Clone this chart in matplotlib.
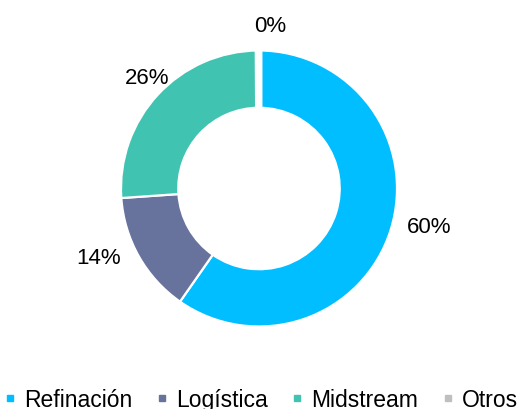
import matplotlib
matplotlib.use("Agg")
import matplotlib.pyplot as plt
from matplotlib.lines import Line2D

categories = ["Refinación", "Logística", "Midstream", "Otros"]
values = [59.7, 14.2, 26.0, 0.1]
colors = ["#00BEFF", "#67739D", "#40C4B1", "#BFBFBF"]

plt.rcParams["font.family"] = ["Liberation Sans", "DejaVu Sans"]

W, H = 521, 409
fig = plt.figure(figsize=(W / 100, H / 100), dpi=100)
ax = fig.add_axes([0, 0, 1, 1])

cx, cy = 259, H - 188.5
R = 138
wedges, _ = ax.pie(values, colors=colors, startangle=90, counterclock=False,
                   center=(cx, cy), radius=R, frame=True,
                   wedgeprops=dict(width=R * 0.415, edgecolor="white", linewidth=1.6))
wedges[-1].set_linewidth(5)
ax.set_xlim(0, W)
ax.set_ylim(0, H)
ax.axis("off")

# label positions (offset from centre, pixels)
label_off = [(170, -39), (-160, -69.5), (-111.5, 110.5), (11, 162.5)]
for v, (dx, dy) in zip(values, label_off):
    ax.text(cx + dx, cy + dy, f"{v:.0f}%", ha="center", va="center",
            fontsize=16, color="black")

handles = [Line2D([], [], linestyle="none", marker="s", markersize=5,
                  markerfacecolor=c, markeredgecolor=c) for c in colors]
fig.legend(handles, categories, loc="center", bbox_to_anchor=(0.5, 0.022),
           ncol=4, frameon=False, fontsize=16.5, handlelength=0.6,
           handletextpad=0.3, columnspacing=1.0, borderpad=0, borderaxespad=0)

fig.savefig("out.png", dpi=100)
